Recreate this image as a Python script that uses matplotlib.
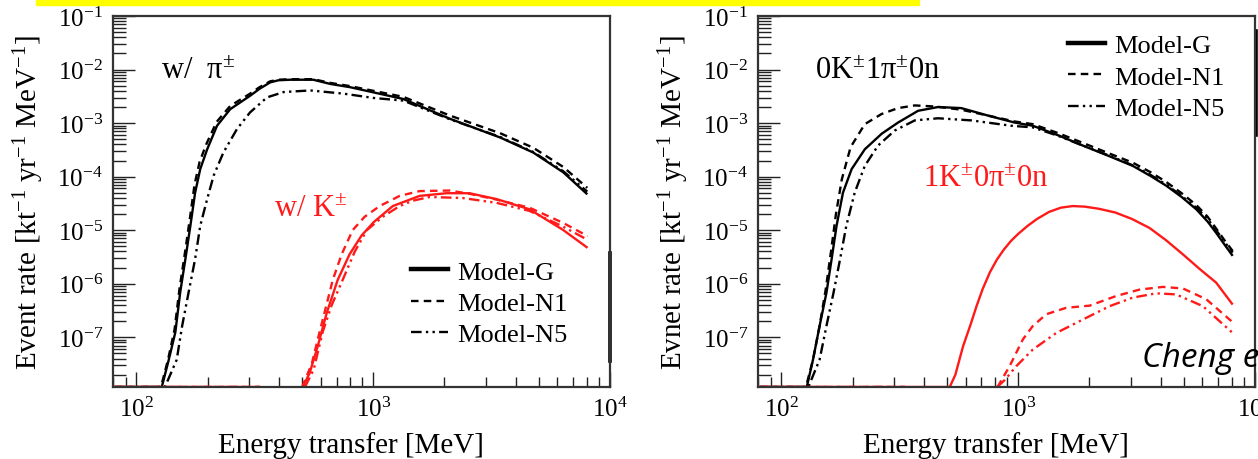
import numpy as np
import matplotlib
matplotlib.use("Agg")
import matplotlib.pyplot as plt
from matplotlib.lines import Line2D
from matplotlib.patches import Rectangle
from matplotlib.ticker import LogLocator, NullFormatter

plt.rcParams['font.family'] = ['Liberation Serif', 'DejaVu Serif']
plt.rcParams['mathtext.fontset'] = 'custom'
plt.rcParams['mathtext.rm'] = 'Liberation Serif'
plt.rcParams['mathtext.it'] = 'Liberation Serif:italic'

FL = -7.93  # bottom of the y range (zero bins sit on the axis)
nan = np.nan

# ---- left panel: w/ pi (black) and w/ K (red); energy in MeV, rate as log10
pi_G_E = [81, 128, 137, 146, 153, 161, 169, 177, 186, 199, 219, 249, 302, 331, 367, 398, 447, 558, 661, 800, 1340, 2110, 3440, 4740, 6350, 8020]
pi_G = [FL, FL, -7.42, -6.91, -6.17, -5.54, -4.92, -4.30, -3.86, -3.49, -3.05, -2.74, -2.49, -2.36, -2.24, -2.20, -2.19, -2.19, -2.27, -2.33, -2.55, -2.92, -3.27, -3.55, -3.92, -4.33]
pi_N1_E = [81, 127, 136, 145, 152, 160, 168, 176, 185, 198, 218, 249, 302, 331, 367, 398, 447, 558, 661, 800, 1340, 2110, 3440, 4740, 6350, 8020]
pi_N1 = [FL, FL, -7.42, -6.85, -6.10, -5.45, -4.80, -4.15, -3.72, -3.38, -2.98, -2.68, -2.45, -2.33, -2.22, -2.19, -2.18, -2.18, -2.25, -2.31, -2.51, -2.86, -3.19, -3.46, -3.82, -4.21]
pi_N5_E = [81, 132, 148, 156, 166, 177, 186, 199, 212, 233, 266, 302, 356, 419, 542, 750, 1000, 1340, 2110, 3440, 4740, 6350, 8020]
pi_N5 = [FL, FL, -7.42, -6.79, -6.17, -5.54, -4.92, -4.42, -3.98, -3.55, -3.11, -2.80, -2.52, -2.42, -2.39, -2.45, -2.53, -2.58, -2.93, -3.26, -3.54, -3.90, -4.28]

K_G_E = [81, 333, nan, 504, 539, 583, 637, 708, 795, 893, 1005, 1210, 1570, 2040, 2550, 3320, 4570, 6310, 8040]
K_G = [FL, FL, nan, FL, -7.67, -7.17, -6.54, -5.93, -5.45, -5.10, -4.85, -4.55, -4.36, -4.31, -4.31, -4.42, -4.61, -4.99, -5.33]
K_N1_E = [81, 333, nan, 501, 550, 594, 675, 736, 819, 920, 1065, 1293, 1570, 2100, 2550, 3320, 4570, 6310, 8040]
K_N1 = [FL, FL, nan, FL, -7.50, -6.90, -5.93, -5.45, -5.00, -4.75, -4.55, -4.36, -4.27, -4.26, -4.32, -4.43, -4.58, -4.86, -5.11]
K_N5_E = [81, 333, nan, 515, 561, 612, 668, 743, 836, 940, 1097, 1293, 1469, 1730, 2390, 3320, 4570, 6310, 8040]
K_N5 = [FL, FL, nan, FL, -7.60, -6.90, -6.40, -5.93, -5.40, -5.00, -4.75, -4.55, -4.45, -4.38, -4.40, -4.49, -4.64, -4.93, -5.18]

# ---- right panel: 0K1pi0n (black) and 1K0pi0n (red)
a_G_E = [81, 128, 136, 145, 155, 163, 171, 182, 198, 225, 265, 311, 378, 459, 575, 746, 966, 1153, 1480, 1875, 2400, 3050, 3630, 4220, 4900, 5650, 6310, 6855, 7410, 8050]
a_G = [FL, FL, -7.42, -6.79, -6.17, -5.54, -4.92, -4.30, -3.86, -3.49, -3.20, -2.99, -2.77, -2.70, -2.72, -2.86, -2.99, -3.05, -3.23, -3.42, -3.61, -3.80, -3.99, -4.17, -4.38, -4.61, -4.84, -5.05, -5.26, -5.48]
a_N1_E = [81, 127, 136, 145, 154, 162, 170, 180, 196, 225, 265, 311, 366, 445, 575, 746, 966, 1153, 1480, 1875, 2400, 3050, 3630, 4220, 4900, 5650, 6310, 6855, 7410, 8050]
a_N1 = [FL, FL, -7.42, -6.79, -6.10, -5.40, -4.70, -4.05, -3.45, -3.02, -2.83, -2.72, -2.67, -2.69, -2.75, -2.86, -2.97, -3.02, -3.19, -3.37, -3.56, -3.74, -3.92, -4.10, -4.31, -4.53, -4.75, -4.97, -5.18, -5.39]
a_N5_E = [81, 130, 145, 155, 166, 177, 188, 204, 225, 256, 301, 366, 459, 635, 935, 1153, 1480, 1875, 2400, 3050, 3630, 4220, 4900, 5650, 6310, 6855, 7410, 8050]
a_N5 = [FL, FL, -7.42, -6.79, -6.17, -5.54, -4.92, -4.30, -3.80, -3.42, -3.14, -2.95, -2.91, -2.95, -3.05, -3.08, -3.24, -3.42, -3.60, -3.79, -3.97, -4.15, -4.36, -4.58, -4.79, -5.00, -5.21, -5.42]

b_G_E = [81, 514, 543, 585, 631, 667, 708, 759, 813, 871, 933, 1000, 1096, 1202, 1349, 1514, 1698, 1905, 2188, 2570, 3020, 3589, 4217, 4955, 5821, 6855, 8050]
b_G = [FL, FL, -7.70, -7.17, -6.75, -6.42, -6.10, -5.79, -5.55, -5.36, -5.20, -5.07, -4.92, -4.79, -4.66, -4.58, -4.55, -4.56, -4.60, -4.67, -4.79, -4.96, -5.19, -5.45, -5.72, -5.98, -6.39]
b_N1_E = [81, 333, nan, 818, 920, 1047, 1153, 1315, 1596, 2004, 2594, 3258, 4083, 4966, 6223, 8050]
b_N1 = [FL, FL, nan, FL, -7.54, -7.04, -6.79, -6.57, -6.45, -6.41, -6.23, -6.11, -6.06, -6.09, -6.29, -6.72]
b_N5_E = [81, 333, nan, 815, 877, 982, 1153, 1449, 1875, 2432, 3048, 3828, 4643, 6026, 8050]
b_N5 = [FL, FL, nan, FL, -7.80, -7.54, -7.23, -6.92, -6.67, -6.42, -6.26, -6.18, -6.20, -6.42, -6.92]

models = ['Model-G', 'Model-N1', 'Model-N5']
styles = ['-', (0, (3.2, 2.2)), (0, (4.5, 1.8, 1, 1.8, 1, 1.8))]

fig = plt.figure(figsize=(12.58, 4.6), dpi=100)
fig.patches.append(Rectangle((0.0286, 0.987), 0.702, 0.013, transform=fig.transFigure,
                             color='#ffff00', zorder=0))

ax1 = fig.add_axes([0.0896, 0.1565, 0.3953, 0.8065])
ax2 = fig.add_axes([0.6023, 0.1565, 0.3953, 0.8065])


def draw(ax, curves, color):
    for (E, lg), ls in zip(curves, styles):
        ax.plot(E, 10 ** np.array(lg, dtype=float), color=color, ls=ls, lw=1.7,
                solid_capstyle='butt', solid_joinstyle='round')


draw(ax1, [(pi_G_E, pi_G), (pi_N1_E, pi_N1), (pi_N5_E, pi_N5)], 'black')
draw(ax1, [(K_G_E, K_G), (K_N1_E, K_N1), (K_N5_E, K_N5)], '#ff1a1a')
draw(ax2, [(a_G_E, a_G), (a_N1_E, a_N1), (a_N5_E, a_N5)], 'black')
draw(ax2, [(b_G_E, b_G), (b_N1_E, b_N1), (b_N5_E, b_N5)], '#ff1a1a')

ylabels = ['Event rate [kt$^{-1}$ yr$^{-1}$ MeV$^{-1}$]',
           'Evnet rate [kt$^{-1}$ yr$^{-1}$ MeV$^{-1}$]']
for ax, yl in zip([ax1, ax2], ylabels):
    ax.set_xscale('log')
    ax.set_yscale('log')
    ax.set_xlim(10 ** 1.9, 1e4)
    ax.set_ylim(10 ** FL, 1e-1)
    ax.xaxis.set_major_locator(LogLocator(base=10, numticks=10))
    ax.xaxis.set_minor_locator(LogLocator(base=10, subs=np.arange(2, 10), numticks=10))
    ax.yaxis.set_major_locator(LogLocator(base=10, numticks=12))
    ax.yaxis.set_minor_locator(LogLocator(base=10, subs=np.arange(2, 10), numticks=12))
    ax.xaxis.set_minor_formatter(NullFormatter())
    ax.yaxis.set_minor_formatter(NullFormatter())
    ax.tick_params(which='both', direction='in', top=False, right=False,
                   labelsize=18, color='#222222', width=1.0)
    ax.tick_params(axis='x', which='major', length=11, pad=7)
    ax.tick_params(axis='x', which='minor', length=7)
    ax.tick_params(axis='y', which='major', length=16, pad=7)
    ax.tick_params(axis='y', which='minor', length=9)
    for s in ax.spines.values():
        s.set_linewidth(1.6)
        s.set_color('#333333')
    ax.set_xlabel('Energy transfer [MeV]', fontsize=21)
    ax.xaxis.set_label_coords(0.479, -0.118)
    ax.set_ylabel(yl, fontsize=21)
    ax.yaxis.set_label_coords(-0.135, 0.5)

# panel annotations
ax1.text(0.097, 0.853, 'w/  π$^{\\pm}$', transform=ax1.transAxes, fontsize=22,
         color='black', va='center')
ax1.text(0.325, 0.480, 'w/ K$^{\\pm}$', transform=ax1.transAxes, fontsize=22,
         color='#ff1a1a', va='center')
ax2.text(0.115, 0.853, '0K$^{\\pm}$1π$^{\\pm}$0n', transform=ax2.transAxes, fontsize=22,
         color='black', va='center')
ax2.text(0.333, 0.561, '1K$^{\\pm}$0π$^{\\pm}$0n', transform=ax2.transAxes, fontsize=22,
         color='#ff1a1a', va='center')

# legends (black samples)
handles = [Line2D([], [], color='black', ls=styles[0], lw=3.2),
           Line2D([], [], color='black', ls=styles[1], lw=1.7),
           Line2D([], [], color='black', ls=styles[2], lw=1.7)]
for ax, anchor in [(ax1, (0.60, 0.342)), (ax2, (0.625, 0.952))]:
    ax.legend(handles, models, loc='upper left', bbox_to_anchor=anchor, frameon=False,
              fontsize=19, handlelength=1.4, handletextpad=0.35, labelspacing=0.3,
              borderpad=0, borderaxespad=0)

# dark edge marks on the right frames of the slide
ax1.plot([1, 1], [0.07, 0.36], transform=ax1.transAxes, color='black', lw=2.6, clip_on=False)
ax2.plot([1.003, 1.003], [0.68, 0.96], transform=ax2.transAxes, color='black', lw=2.6, clip_on=False)

fig.text(1142 / 1258, 1 - 367 / 460, 'Cheng et al.', fontsize=24, style='italic',
         family=['Open Sans', 'DejaVu Sans'], va='baseline', ha='left', color='black')

fig.savefig('out.png', dpi=100)
